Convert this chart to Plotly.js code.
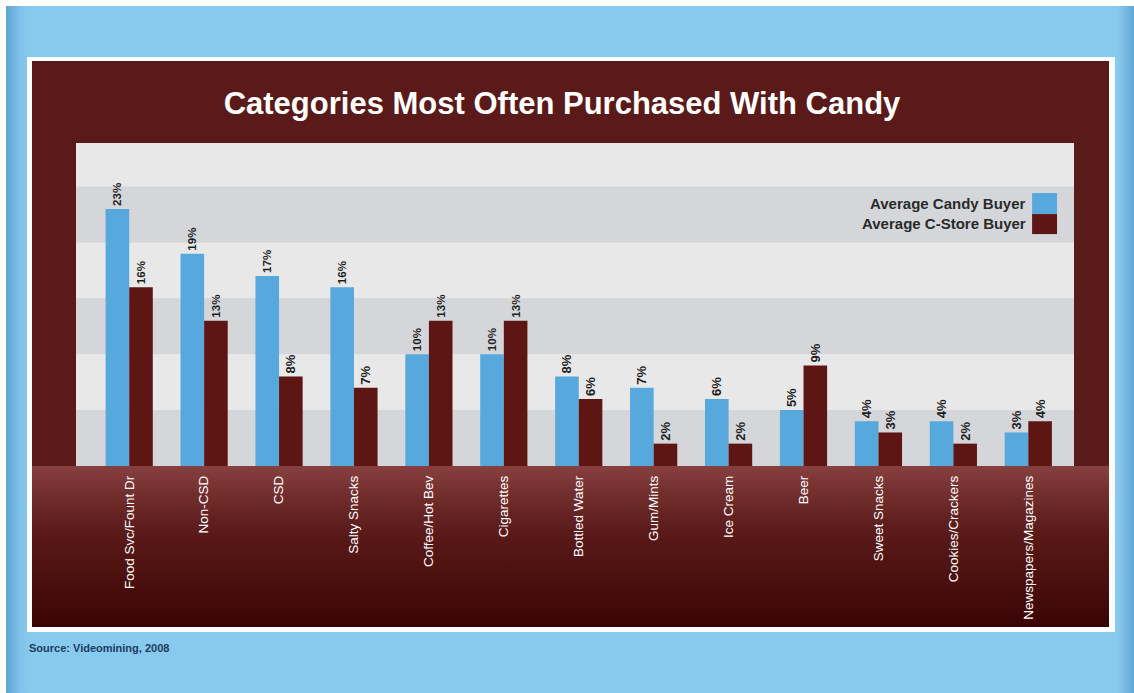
<!DOCTYPE html>
<html>
<head>
<meta charset="utf-8">
<script src="https://cdn.plot.ly/plotly-3.0.1.min.js"></script>
<style>
  html, body { margin: 0; padding: 0; width: 1134px; height: 693px; overflow: hidden; background: #ffffff; }
  #bg { position: absolute; left: 6px; top: 6px; width: 1128px; height: 687px;
        background: linear-gradient(to right, #5ea5d1 0px, #7fc2ea 14px, #88c9ee 24px, #88c9ee 1112px, #7dbfe7 1117px, #5fa7d3 1128px); }
  #frame { position: absolute; left: 27px; top: 57px; width: 1088px; height: 575px; background: #ffffff; }
  #panel { position: absolute; left: 32px; top: 61px; width: 1077px; height: 566px;
           background: linear-gradient(to bottom, #5a1a19 0px, #5a1a19 405px, #86403f 405px, #74302f 430px, #5a1b1a 470px, #4a0f0e 520px, #3b0505 566px); }
  #chart { position: absolute; left: 0; top: 0; width: 1134px; height: 693px; }
</style>
</head>
<body>
<div id="bg"></div>
<div id="frame"></div>
<div id="panel"></div>
<div id="chart"></div>
<script>
const categories = ['Food Svc/Fount Dr', 'Non-CSD', 'CSD', 'Salty Snacks', 'Coffee/Hot Bev', 'Cigarettes',
  'Bottled Water', 'Gum/Mints', 'Ice Cream', 'Beer', 'Sweet Snacks', 'Cookies/Crackers', 'Newspapers/Magazines'];
const candyBuyer  = [23, 19, 17, 16, 10, 10, 8, 7, 6, 5, 4, 4, 3];
const cstoreBuyer = [16, 13, 8, 7, 13, 13, 6, 2, 2, 9, 3, 2, 4];
const seriesNames = ['Average Candy Buyer', 'Average C-Store Buyer'];
const seriesColors = ['#57a8dc', '#5e1614'];
const bandStarts = [0, 10, 20];
const bandSize = 5;
const titleText = 'Categories Most Often Purchased With Candy';
const sourceText = 'Source: Videomining, 2008';

const FONT = 'Liberation Sans, Arial, Helvetica, sans-serif';

function barTrace(vals, name, color) {
  return {
    type: 'bar', x: categories, y: vals, name: name,
    marker: { color: color, line: { width: 0 } },
    text: vals.map(v => v + '%'),
    textposition: 'outside', textangle: -90, cliponaxis: false,
    textfont: { family: FONT, size: 13, color: '#1e1e1e', weight: 'bold' },
    showlegend: false, hoverinfo: 'skip'
  };
}

const data = [
  barTrace(candyBuyer, seriesNames[0], seriesColors[0]),
  barTrace(cstoreBuyer, seriesNames[1], seriesColors[1])
];

const shapes = bandStarts.map(s => ({
  type: 'rect', xref: 'paper', yref: 'y', x0: 0, x1: 1, y0: s, y1: s + bandSize,
  fillcolor: '#d4d6d9', line: { width: 0 }, layer: 'below'
}));

// legend swatches (right of text, as in the reference)
shapes.push({ type: 'rect', xref: 'paper', yref: 'paper', x0: 0.958, x1: 0.983, y0: 0.780, y1: 0.845,
  fillcolor: seriesColors[0], line: { width: 0 } });
shapes.push({ type: 'rect', xref: 'paper', yref: 'paper', x0: 0.958, x1: 0.983, y0: 0.718, y1: 0.780,
  fillcolor: seriesColors[1], line: { width: 0 } });

const annotations = [
  { xref: 'paper', yref: 'paper', x: 0.954, y: 0.814, xanchor: 'right', yanchor: 'middle', showarrow: false,
    text: seriesNames[0], font: { family: FONT, size: 15, color: '#2a2a2a', weight: 'bold' } },
  { xref: 'paper', yref: 'paper', x: 0.954, y: 0.752, xanchor: 'right', yanchor: 'middle', showarrow: false,
    text: seriesNames[1], font: { family: FONT, size: 15, color: '#2a2a2a', weight: 'bold' } },
  { xref: 'paper', yref: 'paper', x: -0.049, y: -0.563, xanchor: 'left', yanchor: 'middle', showarrow: false,
    text: sourceText, font: { family: FONT, size: 11, color: '#1d3c5e', weight: 'bold' } }
];

const layout = {
  width: 1134, height: 693,
  margin: { l: 76, r: 60, t: 143, b: 227, pad: 0 },
  paper_bgcolor: 'rgba(0,0,0,0)',
  plot_bgcolor: '#e8e8e8',
  barmode: 'group', bargap: 0.37, bargroupgap: 0,
  title: {
    text: titleText, xref: 'container', yref: 'container', x: 0.4956, xanchor: 'center', y: 0.851, yanchor: 'middle',
    font: { family: FONT, size: 31, color: '#ffffff', weight: 'bold' }
  },
  xaxis: {
    type: 'category', range: [-0.71, 12.61], tickangle: -90,
    tickfont: { family: FONT, size: 13.5, color: '#ffffff' },
    showgrid: false, zeroline: false, showline: false, ticks: '', ticklabelstandoff: 6, fixedrange: true
  },
  yaxis: {
    range: [0, 28.9], showgrid: false, zeroline: false, showline: false, showticklabels: false, ticks: '', fixedrange: true
  },
  shapes: shapes,
  annotations: annotations
};

Plotly.newPlot('chart', data, layout, { displayModeBar: false, staticPlot: true });
</script>
</body>
</html>
